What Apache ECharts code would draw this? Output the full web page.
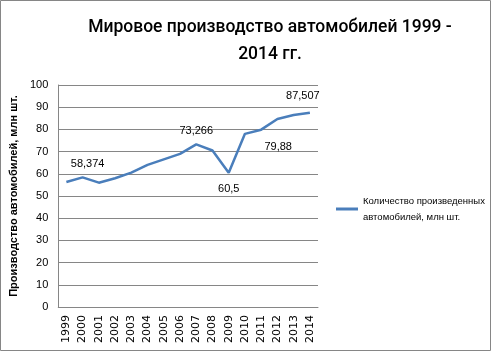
<!DOCTYPE html>
<html>
<head>
<meta charset="utf-8">
<script src="https://cdn.jsdelivr.net/npm/echarts@6/dist/echarts.min.js"></script>
<style>
  html, body { margin: 0; padding: 0; background: #fff; }
  #main { width: 493px; height: 353px; }
</style>
</head>
<body>
<div id="main"></div>
<script>
// years on the x axis
let years = ['1999', '2000', '2001', '2002', '2003', '2004', '2005', '2006',
             '2007', '2008', '2009', '2010', '2011', '2012', '2013', '2014'];
// world car production, mln units
let production = [56.3, 58.374, 56.0, 58.0, 60.5, 64.0, 66.5, 69.0,
                  73.266, 70.5, 60.5, 78.0, 79.88, 84.7, 86.5, 87.507];
// which points carry a value label
let labelled = ['2000', '2007', '2009', '2011', '2014'];

let myChart = echarts.init(document.getElementById('main'));

let sans = 'Liberation Sans, sans-serif';

let labelPos = {
    '2000': { position: 'top', offset: [5, -3] },
    '2007': { position: 'top', offset: [0, -3] },
    '2009': { position: 'bottom', offset: [0, 6] },
    '2011': { position: 'bottom', offset: [17, 7] },
    '2014': { position: 'top', offset: [-7, -6] }
};

let seriesData = production.map((v, i) => {
    let y = years[i];
    let item = { value: v };
    if (labelled.indexOf(y) >= 0) {
        item.label = Object.assign({
            show: true,
            formatter: p => String(p.value).replace('.', ','),
            color: '#000',
            fontSize: 11,
            fontFamily: sans
        }, labelPos[y]);
    }
    return item;
});

let option = {
    backgroundColor: '#fff',
    animation: false,
    title: {
        text: 'Мировое производство автомобилей 1999 -\n2014 гг.',
        left: 265,
        top: 9,
        textAlign: 'center',
        textStyle: {
            fontFamily: 'Roboto, Liberation Sans, sans-serif',
            fontSize: 17.5,
            fontWeight: 500,
            color: '#000',
            lineHeight: 27
        }
    },
    grid: { left: 55, right: 175, top: 85, bottom: 46 },
    legend: {
        orient: 'vertical',
        left: 331,
        top: 188,
        itemWidth: 22,
        itemHeight: 3,
        itemGap: 2,
        icon: 'rect',
        data: ['Количество произведенных\nавтомобилей, млн шт.'],
        textStyle: {
            fontFamily: sans,
            fontSize: 9.5,
            color: '#000',
            lineHeight: 16
        }
    },
    xAxis: {
        type: 'category',
        data: years,
        boundaryGap: true,
        axisLine: { lineStyle: { color: '#868686' } },
        axisTick: { show: false },
        axisLabel: {
            rotate: 90,
            color: '#000',
            fontSize: 11,
            margin: 8,
            fontFamily: 'DejaVu Sans, sans-serif'
        }
    },
    yAxis: {
        type: 'value',
        min: 0,
        max: 100,
        interval: 10,
        name: 'Производство автомобилей, млн шт.',
        nameLocation: 'middle',
        nameGap: 30,
        nameTextStyle: {
            fontFamily: sans,
            fontWeight: 'bold',
            fontSize: 11,
            color: '#000'
        },
        axisLine: { show: true, lineStyle: { color: '#868686' } },
        axisTick: { show: false },
        splitLine: { lineStyle: { color: '#868686' } },
        axisLabel: {
            color: '#000',
            fontSize: 11,
            margin: 10,
            fontFamily: sans
        }
    },
    series: [{
        name: 'Количество произведенных\nавтомобилей, млн шт.',
        type: 'line',
        data: seriesData,
        symbol: 'circle',
        symbolSize: 0,
        showAllSymbol: true,
        itemStyle: { color: '#4a7ebb' },
        lineStyle: { color: '#4a7ebb', width: 2.5 }
    }],
    graphic: [{
        type: 'rect',
        shape: { x: 0.5, y: 0.5, width: 490, height: 350 },
        style: { fill: 'none', stroke: '#868686', lineWidth: 1 },
        silent: true
    }]
};

myChart.setOption(option);
</script>
</body>
</html>
